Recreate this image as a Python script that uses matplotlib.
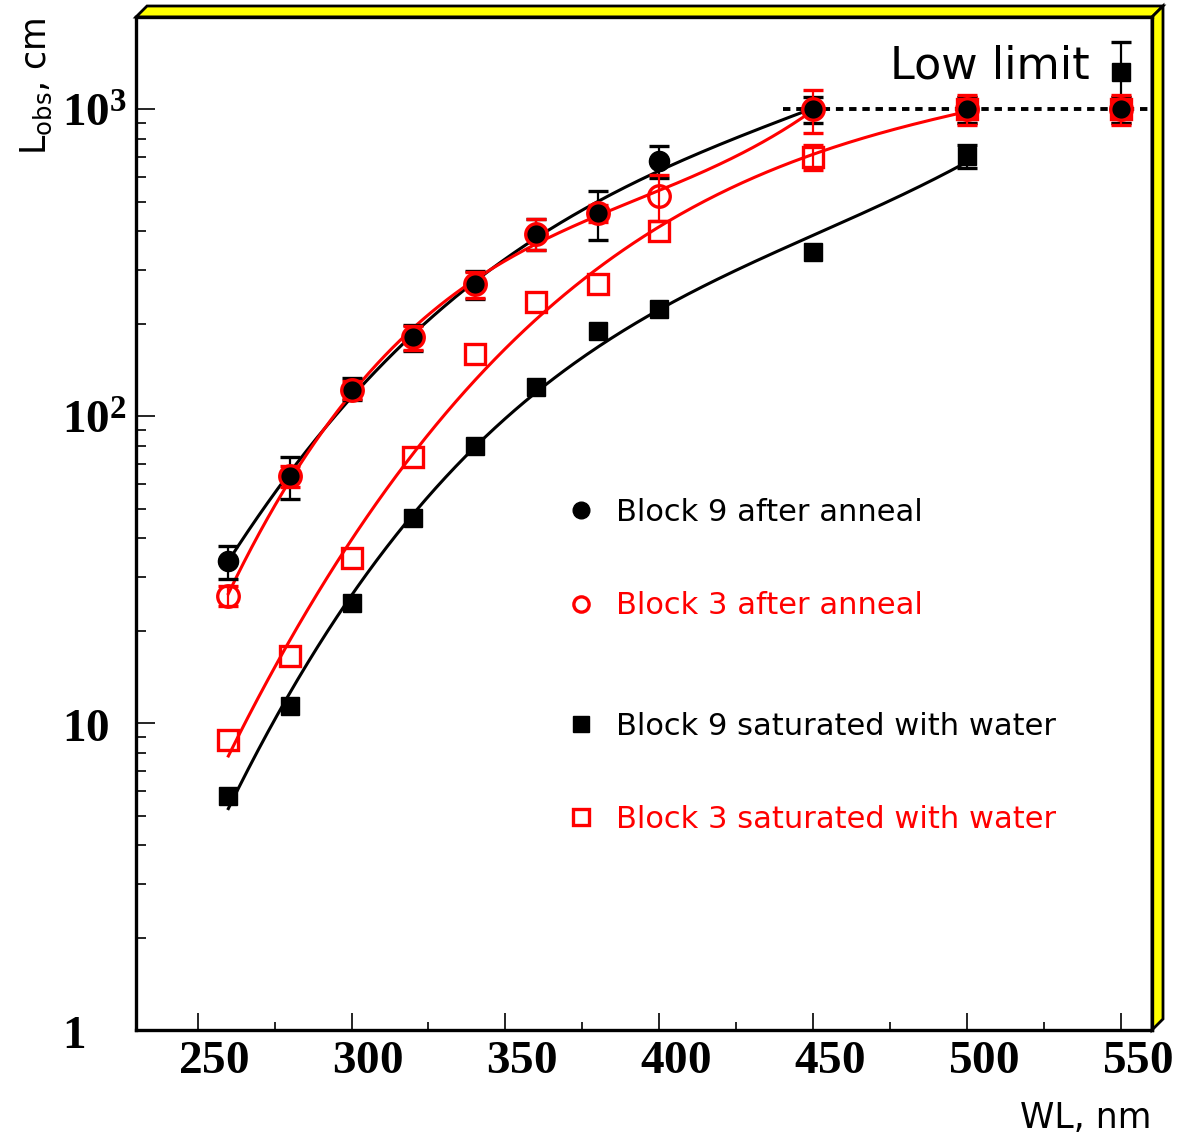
import numpy as np
import matplotlib
matplotlib.use('Agg')
import matplotlib.pyplot as plt
from matplotlib.lines import Line2D
from matplotlib.patches import Polygon
from matplotlib.transforms import ScaledTranslation
from matplotlib.ticker import FixedLocator, MultipleLocator, LogLocator, NullFormatter

plt.rcParams['font.family'] = 'DejaVu Sans'
plt.rcParams['mathtext.fontset'] = 'custom'
plt.rcParams['mathtext.rm'] = 'Liberation Serif:bold'
plt.rcParams['mathtext.bf'] = 'Liberation Serif:bold'
plt.rcParams['mathtext.sf'] = 'DejaVu Sans'

# wavelengths, nm
wl = [260, 280, 300, 320, 340, 360, 380, 400, 450, 500, 550]

# Block 9 after anneal
b9_ann = [33.7, 63.8, 123, 181, 269, 394, 459, 677, 1000, 1000, 1000]
b9_ann_err = [4.2, 10, 10, 18, 28, 46, 85, 80, 100, 100, 100]
# Block 3 after anneal
b3_ann = [26, 63.8, 122, 181, 269, 394, 459, 522, 1000, 1000, 1000]
b3_ann_err = [2, 5, 8, 16, 26, 46, 28, 88, 160, 110, 110]
# Block 9 saturated with water
b9_wat = [5.8, 11.4, 24.6, 46.5, 79.9, 125, 189, 223, 343, 706, 1325]
b9_wat_err = [0, 0, 0, 0, 0, 0, 0, 0, 0, 62, 330]
# Block 3 saturated with water
b3_wat = [8.8, 16.5, 34.5, 73.7, 159, 235, 269, 402, 700, 1000, 1000]
b3_wat_err = [0, 0, 0, 0, 0, 0, 0, 0, 64, 100, 100]

# points used in fits and fit range
ann_fit_n = 9     # 260..450
wat_fit_n = 10    # 260..500

low_limit = 1000

fig = plt.figure(figsize=(11.86, 11.41), dpi=100)
ax = fig.add_axes([136/1186, 111/1141, 1016/1186, 1013/1141])
ax.set_yscale('log')
ax.set_xlim(230, 560)
ax.set_ylim(1, 2000)


def fit_curve(x, y, n, deg, color):
    x = np.array(x[:n], dtype=float)
    y = np.log10(np.array(y[:n], dtype=float))
    p = np.polyfit(x, y, deg)
    xx = np.linspace(x[0], x[-1], 300)
    ax.plot(xx, 10**np.polyval(p, xx), color=color, lw=2.2, zorder=3)


def err_points(x, y, e, **kw):
    x = np.array(x)
    y = np.array(y, dtype=float)
    e = np.array(e, dtype=float)
    m = e > 0
    ax.errorbar(x[m], y[m], yerr=e[m], fmt='none', ecolor=kw['color'],
                elinewidth=1.6, capsize=7, capthick=2.4, zorder=4)


# dotted low-limit line
ax.hlines(low_limit, 440, 560, colors='black', lw=2.8,
          linestyles=(0, (1.9, 1.5)), zorder=2)

fit_curve(wl, b9_ann, ann_fit_n, 3, 'black')
fit_curve(wl, b3_ann, ann_fit_n, 3, 'red')
fit_curve(wl, b9_wat, wat_fit_n, 3, 'black')
fit_curve(wl, b3_wat, wat_fit_n, 3, 'red')

err_points(wl, b9_wat, b9_wat_err, color='black')
ax.plot(wl, b9_wat, ls='none', marker='s', ms=13.5, color='black', zorder=5)
err_points(wl, b3_wat, b3_wat_err, color='red')
ax.plot(wl, b3_wat, ls='none', marker='s', ms=15, mfc='none', mec='red',
        mew=2.4, zorder=5)
err_points(wl, b9_ann, b9_ann_err, color='black')
ax.plot(wl, b9_ann, ls='none', marker='o', ms=14.5, color='black', zorder=6)
err_points(wl, b3_ann, b3_ann_err, color='red')
ax.plot(wl, b3_ann, ls='none', marker='o', ms=15.5, mfc='none', mec='red',
        mew=2.4, zorder=7)

ax.text(0.742, 0.939, 'Low limit', transform=ax.transAxes, fontsize=32,
        color='black')

# axes, ticks
ax.xaxis.set_major_locator(MultipleLocator(50))
ax.xaxis.set_minor_locator(MultipleLocator(25))
ax.yaxis.set_major_locator(FixedLocator([1, 10, 100, 1000]))
ax.yaxis.set_minor_locator(LogLocator(base=10, subs=np.arange(2, 10)))
ax.yaxis.set_minor_formatter(NullFormatter())
ax.set_yticklabels([r'$\mathbf{1}$', r'$\mathbf{10}$', r'$\mathbf{10^{2}}$',
                    r'$\mathbf{10^{3}}$'], fontsize=34)
ax.set_xticklabels([r'$\mathbf{%d}$' % v for v in ax.get_xticks()], fontsize=34)
ax.set_xlim(230, 560)
ax.tick_params(axis='both', which='both', direction='in', top=False,
               right=False, width=1.2, color='black')
ax.tick_params(axis='y', which='major', length=14, pad=53)
ax.tick_params(axis='y', which='minor', length=7)
ax.tick_params(axis='x', which='major', length=12, pad=6)
ax.tick_params(axis='x', which='minor', length=6)
for lbl in ax.get_yticklabels():
    lbl.set_horizontalalignment('left')
shift = ScaledTranslation(0.16, 0, fig.dpi_scale_trans)
for lbl in ax.get_xticklabels():
    lbl.set_transform(lbl.get_transform() + shift)

for s in ax.spines.values():
    s.set_linewidth(2.4)

ax.set_xlabel('WL, nm', fontsize=25, loc='right', labelpad=13)
ax.set_ylabel(r'L$_{\mathsf{obs}}$, cm', fontsize=25, loc='top', labelpad=6)

# yellow frame border (ROOT style)
dx = 11 / 1016
dy = 11 / 1013
top_band = Polygon([(0, 1), (dx, 1 + dy), (1 + dx, 1 + dy), (1, 1)],
                   closed=True, facecolor='#ffff00', edgecolor='black',
                   lw=2, transform=ax.transAxes, clip_on=False, zorder=1)
right_band = Polygon([(1, 1), (1 + dx, 1 + dy), (1 + dx, dy), (1, 0)],
                     closed=True, facecolor='#ffff00', edgecolor='black',
                     lw=2, transform=ax.transAxes, clip_on=False, zorder=1)
ax.add_patch(top_band)
ax.add_patch(right_band)

# legend
h1 = [Line2D([], [], ls='none', marker='o', ms=12, color='black'),
      Line2D([], [], ls='none', marker='o', ms=11, mfc='none', mec='red', mew=2.4)]
h2 = [Line2D([], [], ls='none', marker='s', ms=12, color='black'),
      Line2D([], [], ls='none', marker='s', ms=11, mfc='none', mec='red', mew=2.4)]
leg_kw = dict(loc='upper left', frameon=False, fontsize=22, borderpad=0,
              borderaxespad=0, handlelength=1.05, handletextpad=0.62,
              labelspacing=2.1, labelcolor=['black', 'red'])
leg1 = ax.legend(h1, ['Block 9 after anneal', 'Block 3 after anneal'],
                 bbox_to_anchor=(0.422, 0.525), **leg_kw)
ax.add_artist(leg1)
ax.legend(h2, ['Block 9 saturated with water', 'Block 3 saturated with water'],
          bbox_to_anchor=(0.422, 0.314), **leg_kw)

fig.savefig('out.png', dpi=100)
